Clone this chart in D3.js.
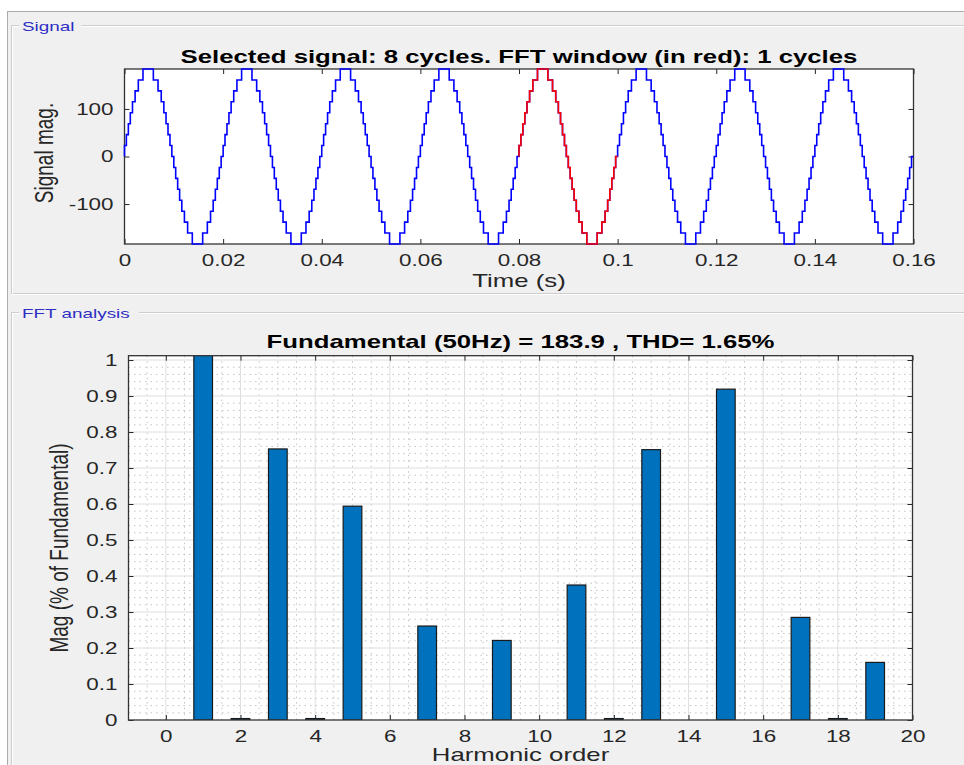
<!DOCTYPE html>
<html>
<head>
<meta charset="utf-8">
<script src="https://cdn.jsdelivr.net/npm/d3@7"></script>
<style>
  body { margin: 0; background: #fff; }
  svg { display: block; font-family: "Liberation Sans", Arial, sans-serif; }
</style>
</head>
<body>
<div id="chart"></div>
<script>
// ---- data ----
// one cycle of the stepped signal: switching instants (ms) and the level reached
const cycleStepMs = [0, 0.38, 0.78, 1.18, 1.62, 2.15, 2.8, 3.75, 5.85, 6.8, 7.45, 7.98, 8.42, 8.82, 9.22, 9.6,
  10, 10.38, 10.78, 11.18, 11.62, 12.15, 12.8, 13.75, 15.85, 16.8, 17.45, 17.98, 18.42, 18.82, 19.22, 19.6];
const cycleStepLevel = [1, 2, 3, 4, 5, 6, 7, 8, 7, 6, 5, 4, 3, 2, 1, 0,
  -1, -2, -3, -4, -5, -6, -7, -8, -7, -6, -5, -4, -3, -2, -1, 0];
const levelSize = 23;      // signal units per step
const cycleMs = 20;        // 50 Hz
const nCycles = 8;
const fftCycle = 4;        // window 0.08 .. 0.1 s

const timeTicks = [0, 0.02, 0.04, 0.06, 0.08, 0.1, 0.12, 0.14, 0.16];
const timeTickLabels = ["0", "0.02", "0.04", "0.06", "0.08", "0.1", "0.12", "0.14", "0.16"];
const sigTicks = [-100, 0, 100];
const sigTickLabels = ["-100", "0", "100"];

const harmonicOrder = [0, 1, 2, 3, 4, 5, 6, 7, 8, 9, 10, 11, 12, 13, 14, 15, 16, 17, 18, 19];
const harmonicMag = [0, 1.02, 0.004, 0.753, 0.004, 0.594, 0, 0.261, 0, 0.221,
  0, 0.375, 0.004, 0.751, 0, 0.919, 0, 0.285, 0.004, 0.16];
const harmTicks = [0, 2, 4, 6, 8, 10, 12, 14, 16, 18, 20];
const fftTicks = [0, 0.1, 0.2, 0.3, 0.4, 0.5, 0.6, 0.7, 0.8, 0.9, 1];
const fftTickLabels = ["0", "0.1", "0.2", "0.3", "0.4", "0.5", "0.6", "0.7", "0.8", "0.9", "1"];

const topTitle = "Selected signal: 8 cycles. FFT window (in red): 1 cycles";
const bottomTitle = "Fundamental (50Hz) = 183.9 , THD= 1.65%";

// ---- layout ----
const W = 964, H = 765;
const SX = 1.4;   // the screenshot is stretched sideways
const axisColor = "#262626";
const panelBg = "#f0f0f0";

const svg = d3.select("#chart").append("svg").attr("width", W).attr("height", H);

function stretch(sel) {
  sel.each(function () {
    const t = d3.select(this);
    const x = +t.attr("x") || 0, y = +t.attr("y") || 0;
    t.attr("x", 0).attr("y", 0)
      .attr("transform", `translate(${x},${y}) scale(${SX},1)`);
  });
}

function label(x, y, txt, size, opts = {}) {
  const t = svg.append("text")
    .attr("x", x).attr("y", y)
    .attr("text-anchor", opts.anchor || "middle")
    .attr("font-size", size)
    .attr("font-weight", opts.bold ? "bold" : null)
    .attr("fill", opts.color || axisColor)
    .text(txt);
  if (opts.rotate) {
    t.attr("x", 0).attr("y", 0)
      .attr("transform", `translate(${x},${y}) scale(${SX},1) rotate(-90)`);
  } else {
    t.call(stretch);
  }
  return t;
}

// window background and group boxes
svg.append("rect").attr("x", 7.5).attr("y", 11.5).attr("width", 980).attr("height", 780)
  .attr("fill", panelBg).attr("stroke", "#ababab");

function groupBox(y, h, text, gapW) {
  svg.append("rect").attr("x", 11.5).attr("y", y + 0.5).attr("width", 990).attr("height", h)
    .attr("fill", "none").attr("stroke", "#cdcdcd");
  svg.append("rect").attr("x", 12.5).attr("y", y + 1.5).attr("width", 990).attr("height", h)
    .attr("fill", "none").attr("stroke", "#ffffff");
  svg.append("rect").attr("x", 19).attr("y", y - 7).attr("width", gapW).attr("height", 14)
    .attr("fill", panelBg);
  label(22, y + 6, text, 13.5, { anchor: "start", color: "#2e2ec4" });
}
groupBox(25, 268, "Signal", 62);
groupBox(312, 500, "FFT analysis", 120);

function tickAxes(g, x, y, xt, yt, fmtX, fmtY, plot) {
  const styleAxis = a => {
    a.attr("font-size", 16).attr("font-family", null);
    a.select(".domain").remove();
    a.selectAll("line").attr("stroke", axisColor);
    a.selectAll("text").attr("fill", axisColor).call(stretch);
  };
  g.append("g").attr("transform", `translate(0,${plot.y1})`)
    .call(d3.axisBottom(x).tickValues(xt).tickFormat((d, i) => fmtX[i])
      .tickSizeInner(-5).tickSizeOuter(0).tickPadding(11)).call(styleAxis);
  g.append("g").attr("transform", `translate(0,${plot.y0})`)
    .call(d3.axisTop(x).tickValues(xt).tickFormat("").tickSizeInner(-5).tickSizeOuter(0)).call(styleAxis);
  g.append("g").attr("transform", `translate(${plot.x0},0)`)
    .call(d3.axisLeft(y).tickValues(yt).tickFormat((d, i) => fmtY[i])
      .tickSizeInner(-5).tickSizeOuter(0).tickPadding(11)).call(styleAxis);
  g.append("g").attr("transform", `translate(${plot.x1},0)`)
    .call(d3.axisRight(y).tickValues(yt).tickFormat("").tickSizeInner(-5).tickSizeOuter(0)).call(styleAxis);
}

// ---- top: signal ----
const p1 = { x0: 124.5, x1: 913.5, y0: 69, y1: 244 };
const xT = d3.scaleLinear().domain([0, 0.16]).range([p1.x0, p1.x1]);
const yS = d3.scaleLinear().domain([-184, 184]).range([p1.y1, p1.y0]);

const signal = [{ t: 0, v: 0, c: -1 }];
for (let c = 0; c < nCycles; c++) {
  cycleStepMs.forEach((ms, i) => {
    signal.push({ t: (c * cycleMs + ms) / 1000, v: cycleStepLevel[i] * levelSize, c: c });
  });
}
signal.push({ t: nCycles * cycleMs / 1000, v: 0, c: nCycles });

const winStart = fftCycle * cycleMs / 1000, winEnd = (fftCycle + 1) * cycleMs / 1000;
const fftWindow = [{ t: winStart, v: 0 }]
  .concat(signal.filter(d => d.c === fftCycle))
  .concat([{ t: winEnd, v: 0 }]);

const g1 = svg.append("g");
g1.append("rect").attr("x", p1.x0).attr("y", p1.y0)
  .attr("width", p1.x1 - p1.x0).attr("height", p1.y1 - p1.y0).attr("fill", "#fff");

tickAxes(g1, xT, yS, timeTicks, sigTicks, timeTickLabels, sigTickLabels, p1);

g1.append("rect").attr("x", p1.x0).attr("y", p1.y0)
  .attr("width", p1.x1 - p1.x0).attr("height", p1.y1 - p1.y0)
  .attr("fill", "none").attr("stroke", "#333").attr("stroke-width", 1.3);

const stair = d3.line().x(d => xT(d.t)).y(d => yS(d.v)).curve(d3.curveStepAfter);
g1.append("path").datum(signal).attr("d", stair)
  .attr("fill", "none").attr("stroke", "#0000ff").attr("stroke-width", 1.6);
g1.append("path").datum(fftWindow).attr("d", stair)
  .attr("fill", "none").attr("stroke", "#ff0000").attr("stroke-width", 1.6);

label((p1.x0 + p1.x1) / 2, 62.5, topTitle, 18.4, { bold: true, color: "#000" });
label((p1.x0 + p1.x1) / 2, 287, "Time (s)", 18.4);
label(53, 153, "Signal mag.", 19, { rotate: true });

// ---- bottom: FFT ----
const p2 = { x0: 128.5, x1: 912.5, y0: 355.7, y1: 720 };
const xH = d3.scaleLinear().domain([-1, 20]).range([p2.x0, p2.x1]);
const yM = d3.scaleLinear().domain([0, 1.012]).range([p2.y1, p2.y0]);

const g2 = svg.append("g");
g2.append("rect").attr("x", p2.x0).attr("y", p2.y0)
  .attr("width", p2.x1 - p2.x0).attr("height", p2.y1 - p2.y0).attr("fill", "#fff");

svg.append("clipPath").attr("id", "clip2").append("rect")
  .attr("x", p2.x0).attr("y", p2.y0).attr("width", p2.x1 - p2.x0).attr("height", p2.y1 - p2.y0);

// minor grid (dotted)
const minorX = d3.range(-1, 20.01, 0.5).filter(v => !harmTicks.includes(v) && v > -1 && v < 20);
const minorY = d3.range(0.02, 1.01, 0.02).filter(v => Math.abs(v * 10 - Math.round(v * 10)) > 1e-6);
g2.append("g").selectAll("line").data(minorX).join("line")
  .attr("x1", d => xH(d)).attr("x2", d => xH(d)).attr("y1", p2.y0).attr("y2", p2.y1)
  .attr("stroke", "#c4c4c4").attr("stroke-dasharray", "1.5,4");
g2.append("g").selectAll("line").data(minorY).join("line")
  .attr("y1", d => yM(d)).attr("y2", d => yM(d)).attr("x1", p2.x0).attr("x2", p2.x1)
  .attr("stroke", "#c4c4c4").attr("stroke-dasharray", "1.5,4");
// major grid
g2.append("g").selectAll("line").data(harmTicks.filter(d => d < 20)).join("line")
  .attr("x1", d => xH(d)).attr("x2", d => xH(d)).attr("y1", p2.y0).attr("y2", p2.y1)
  .attr("stroke", "#dedede");
g2.append("g").selectAll("line").data(fftTicks.filter(d => d > 0)).join("line")
  .attr("y1", d => yM(d)).attr("y2", d => yM(d)).attr("x1", p2.x0).attr("x2", p2.x1)
  .attr("stroke", "#dedede");

const bars = harmonicOrder.map((h, i) => ({ h: h, v: harmonicMag[i] })).filter(d => d.v > 0);
g2.append("g").attr("clip-path", "url(#clip2)")
  .selectAll("rect").data(bars).join("rect")
  .attr("x", d => xH(d.h - 0.25))
  .attr("width", d => xH(d.h + 0.25) - xH(d.h - 0.25))
  .attr("y", d => yM(d.v))
  .attr("height", d => yM(0) - yM(d.v))
  .attr("fill", "#0072bd").attr("stroke", "#1a1a1a").attr("stroke-width", 1.2);

tickAxes(g2, xH, yM, harmTicks, fftTicks, harmTicks.map(String), fftTickLabels, p2);

g2.append("rect").attr("x", p2.x0).attr("y", p2.y0)
  .attr("width", p2.x1 - p2.x0).attr("height", p2.y1 - p2.y0)
  .attr("fill", "none").attr("stroke", "#333").attr("stroke-width", 1.3);

label((p2.x0 + p2.x1) / 2, 347.5, bottomTitle, 18.4, { bold: true, color: "#000" });
label((p2.x0 + p2.x1) / 2, 760.5, "Harmonic order", 18.4);
label(68, 548, "Mag (% of Fundamental)", 19, { rotate: true });
</script>
</body>
</html>
